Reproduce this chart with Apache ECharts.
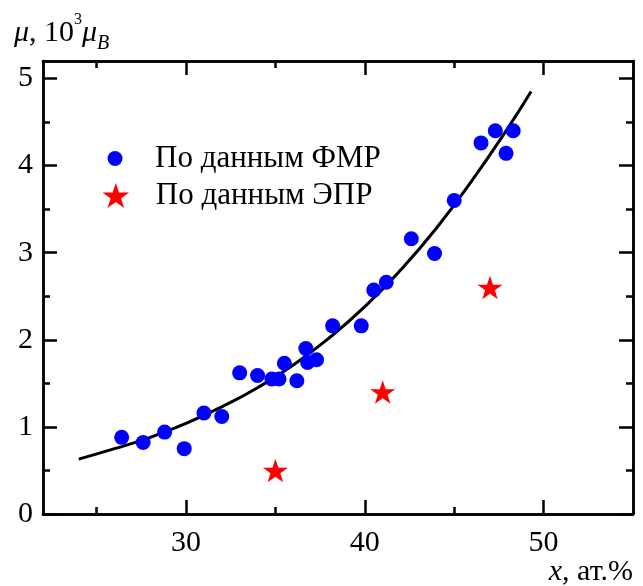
<!DOCTYPE html>
<html>
<head>
<meta charset="utf-8">
<script src="https://cdn.jsdelivr.net/npm/echarts@6/dist/echarts.min.js"></script>
<style>
html,body{margin:0;padding:0;background:#fff;}
#c{width:643px;height:586px;}
</style>
</head>
<body>
<div id="c"></div>
<script>
// ---- data ----
const fmrX = [26.4, 27.6, 28.8, 29.9, 31.0, 32.0, 33.0, 34.0, 34.8, 35.2, 35.5, 36.2, 36.7, 36.8, 37.3, 38.2, 39.8, 40.5, 41.2, 42.6, 43.9, 45.0, 46.5, 47.3, 47.9, 48.3];
const fmrY = [0.88, 0.82, 0.94, 0.75, 1.16, 1.12, 1.62, 1.59, 1.55, 1.55, 1.73, 1.53, 1.90, 1.74, 1.77, 2.16, 2.16, 2.57, 2.66, 3.16, 2.99, 3.60, 4.26, 4.40, 4.14, 4.40];
const eprX = [35, 41, 47];
const eprY = [0.50, 1.40, 2.60];
const fitX = [24, 26, 28, 30, 32, 34, 36, 38, 40, 42, 44, 46, 48, 49.3];
const fitY = [0.63, 0.75, 0.88, 1.04, 1.23, 1.45, 1.71, 2.02, 2.38, 2.80, 3.28, 3.83, 4.43, 4.85];
const xMajor = [30, 40, 50];
const xMinor = [25, 35, 45];
const yMajor = [0, 1, 2, 3, 4, 5];
const yMinor = [0.5, 1.5, 2.5, 3.5, 4.5];
const nameFMR = 'По данным ФМР';
const nameEPR = 'По данным ЭПР';

const FONT = 'Liberation Serif';
const FS = 30;
const starPath = 'path://M50,0 L61.8,35.1 L98.9,35.1 L69.1,56.7 L80.3,91.9 L50,70.2 L19.7,91.9 L30.9,56.7 L1.1,35.1 L38.2,35.1 Z';
const LW = 2.5;
const axisLine = {show: true, onZero: false, lineStyle: {color: '#000', width: LW}};

function xAxisDef(pos, ticks, len, labels) {
  return {
    type: 'value', position: pos, min: 22, max: 55,
    axisLine: axisLine,
    axisTick: {show: true, inside: true, length: len, customValues: ticks, lineStyle: {color: '#000', width: LW}},
    axisLabel: labels ? {show: true, customValues: ticks, color: '#000', fontFamily: FONT, fontSize: FS, margin: 14} : {show: false},
    splitLine: {show: false}
  };
}
function yAxisDef(pos, ticks, len, labels) {
  return {
    type: 'value', position: pos, min: 0, max: 5.2,
    axisLine: axisLine,
    axisTick: {show: true, inside: true, length: len, customValues: ticks, lineStyle: {color: '#000', width: LW}},
    axisLabel: labels ? {show: true, customValues: ticks, color: '#000', fontFamily: FONT, fontSize: FS, margin: 10} : {show: false},
    splitLine: {show: false}
  };
}

const chart = echarts.init(document.getElementById('c'));
chart.setOption({
  animation: false,
  backgroundColor: '#fff',
  grid: {left: 43, right: 10, top: 61, bottom: 72, containLabel: false},
  xAxis: [
    xAxisDef('bottom', xMajor, 14, true),
    xAxisDef('bottom', xMinor, 7, false),
    xAxisDef('top', xMajor, 14, false),
    xAxisDef('top', xMinor, 7, false)
  ],
  yAxis: [
    yAxisDef('left', yMajor, 14, true),
    yAxisDef('left', yMinor, 7, false),
    yAxisDef('right', yMajor, 14, false),
    yAxisDef('right', yMinor, 7, false)
  ],
  legend: [
    {data: [{name: nameFMR, icon: 'circle'}], left: 107.5, top: 143, padding: 0, itemWidth: 70, itemHeight: 15,
     textStyle: {fontFamily: FONT, fontSize: 31, color: '#000'}, selectedMode: false},
    {data: [{name: nameEPR, icon: starPath}], left: 102.5, top: 180, padding: 0, itemWidth: 70, itemHeight: 25,
     textStyle: {fontFamily: FONT, fontSize: 31, color: '#000'}, selectedMode: false}
  ],
  graphic: [
    {type: 'text', left: 14, top: 12, style: {
      text: '{i|μ}{n|, 10}{sup|3}{i|μ}{sub|B}',
      rich: {
        i: {fontFamily: FONT, fontSize: 30, fontStyle: 'italic', fill: '#000', lineHeight: 42, verticalAlign: 'middle'},
        n: {fontFamily: FONT, fontSize: 30, fill: '#000', lineHeight: 42, verticalAlign: 'middle'},
        sup: {fontFamily: FONT, fontSize: 16, fill: '#000', lineHeight: 16, verticalAlign: 'top'},
        sub: {fontFamily: FONT, fontSize: 20, fontStyle: 'italic', fill: '#000', lineHeight: 26, verticalAlign: 'bottom'}
      }
    }},
    {type: 'text', right: 10, top: 557, style: {
      text: '{i|x}{n|, ат.%}',
      rich: {
        i: {fontFamily: FONT, fontSize: 30, fontStyle: 'italic', fill: '#000'},
        n: {fontFamily: FONT, fontSize: 30, fill: '#000'}
      }
    }}
  ],
  series: [
    {type: 'line', name: 'fit', data: fitX.map((x, i) => [x, fitY[i]]), smooth: true, showSymbol: false, silent: true,
     lineStyle: {color: '#000', width: 3}, z: 1},
    {type: 'scatter', name: nameFMR, data: fmrX.map((x, i) => [x, fmrY[i]]), symbol: 'circle', symbolSize: 15,
     itemStyle: {color: '#0000FF', opacity: 1}, z: 3},
    {type: 'scatter', name: nameEPR, data: eprX.map((x, i) => [x, eprY[i]]), symbol: starPath, symbolSize: 25, symbolKeepAspect: true,
     itemStyle: {color: '#FF0000', opacity: 1}, z: 3}
  ]
});
</script>
</body>
</html>
